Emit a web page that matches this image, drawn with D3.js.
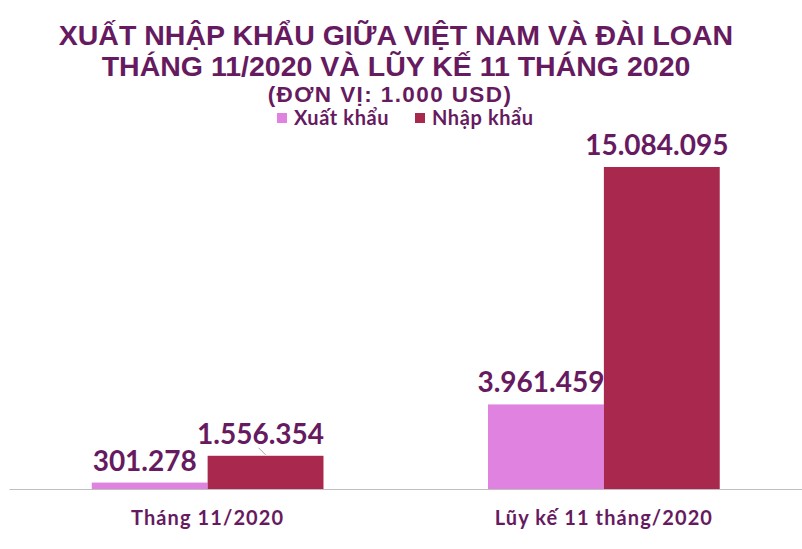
<!DOCTYPE html>
<html><head><meta charset="utf-8">
<script src="https://cdn.jsdelivr.net/npm/d3@7/dist/d3.min.js"></script>
<style>body{margin:0;background:#fff}svg{display:block}</style>
</head><body>
<svg id="c" width="802" height="549"></svg>
<script>
const categories = ["Tháng 11/2020", "Lũy kế 11 tháng/2020"];
const seriesNames = ["Xuất khẩu", "Nhập khẩu"];
const exportValues = [301278, 3961459];
const importValues = [1556354, 15084095];
const titleLines = ["XUẤT NHẬP KHẨU GIỮA VIỆT NAM VÀ ĐÀI LOAN", "THÁNG 11/2020 VÀ LŨY KẾ 11 THÁNG 2020"];
const subtitle = "(ĐƠN VỊ: 1.000 USD)";

const colors = ["#df82e0", "#a9294e"];
const textColor = "#661a60";
const svg = d3.select("#c");
const plot = {left: 9.5, right: 802, bottom: 489, top: 167};
const maxV = d3.max(importValues);

const x0 = d3.scaleBand().domain(categories).range([plot.left, plot.right]).paddingInner(0).paddingOuter(0);
const x1 = d3.scaleBand().domain(seriesNames).range([0, x0.bandwidth()]).paddingOuter(0.71).paddingInner(0);
const y = d3.scaleLinear().domain([0, maxV]).range([plot.bottom, plot.top]);

const numFmt = v => d3.format(",")(v).replace(/,/g, ".");
const labelFont = "Lato, 'Noto Sans', sans-serif";

// title
const tFont = "'Liberation Sans', Arial, sans-serif";
svg.selectAll("text.title").data(titleLines).join("text").attr("class","title")
  .attr("x", 396).attr("y", (d, i) => i === 0 ? 45 : 76)
  .attr("text-anchor","middle")
  .attr("font-family", tFont).attr("font-weight","bold").attr("font-size", 28.5)
  .attr("fill", textColor).text(d => d);

svg.append("text").attr("x", 390).attr("y", 102).attr("text-anchor","middle")
  .attr("font-family", tFont).attr("font-weight","bold").attr("font-size", 22.5)
  .attr("letter-spacing", 1.4)
  .attr("fill", textColor).text(subtitle);

// legend
const legendX = [277, 415];
seriesNames.forEach((s, i) => {
  const g = svg.append("g").attr("transform", `translate(${legendX[i]},113)`);
  g.append("rect").attr("width", 10).attr("height", 10).attr("fill", colors[i]);
  g.append("text").attr("x", 17).attr("y", 12).attr("font-family", labelFont)
    .attr("font-weight", "bold").attr("font-size", 20).attr("letter-spacing", 0.6)
    .attr("fill", textColor).text(s);
});

// axis baseline
svg.append("line").attr("x1", plot.left).attr("x2", plot.right)
  .attr("y1", plot.bottom + 0.5).attr("y2", plot.bottom + 0.5)
  .attr("stroke", "#bfbfbf").attr("stroke-width", 1);

const data = categories.map((c, i) => ({cat: c, vals: [exportValues[i], importValues[i]]}));

const groups = svg.selectAll("g.cat").data(data).join("g").attr("class","cat")
  .attr("transform", d => `translate(${x0(d.cat)},0)`);

groups.selectAll("rect").data(d => d.vals.map((v, j) => ({v, s: seriesNames[j], j})))
  .join("rect")
  .attr("x", d => x1(d.s)).attr("width", x1.bandwidth())
  .attr("y", d => y(d.v)).attr("height", d => plot.bottom - y(d.v))
  .attr("fill", d => colors[d.j]);

// data labels
groups.selectAll("text.val").data(d => d.vals.map((v, j) => ({v, s: seriesNames[j], j})))
  .join("text").attr("class","val")
  .attr("x", d => x1(d.s) + x1.bandwidth()/2 - 5)
  .attr("y", d => y(d.v) - 12)
  .attr("text-anchor","middle")
  .attr("font-family", labelFont).attr("font-weight","bold").attr("font-size", 28)
  .attr("fill", textColor).text(d => numFmt(d.v));

// leader line for small import bar label
{
  const cx = x0(categories[0]) + x1(seriesNames[1]) + x1.bandwidth()/2;
  const yt = y(importValues[0]);
  svg.append("line").attr("x1", cx - 7).attr("y1", yt - 8).attr("x2", cx).attr("y2", yt - 1)
    .attr("stroke", "#a6a6a6").attr("stroke-width", 1);
}

// category labels
svg.selectAll("text.cat").data(categories).join("text").attr("class","cat")
  .attr("x", d => x0(d) + x0.bandwidth()/2).attr("y", 525)
  .attr("text-anchor","middle").attr("font-family", labelFont)
  .attr("font-weight","bold").attr("font-size", 20).attr("letter-spacing", 1.1)
  .attr("fill", textColor).text(d => d);
</script>
</body></html>
